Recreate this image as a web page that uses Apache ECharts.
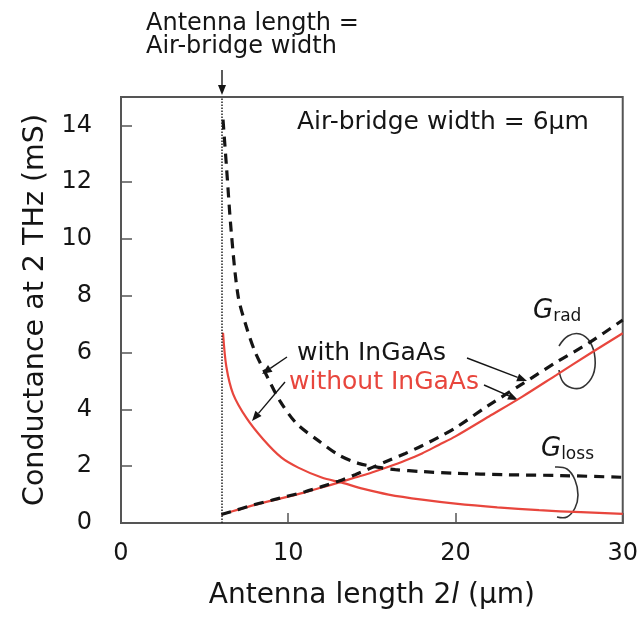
<!DOCTYPE html>
<html><head><meta charset="utf-8">
<script src="https://cdn.jsdelivr.net/npm/echarts@6/dist/echarts.min.js"></script>
<style>html,body{margin:0;padding:0;background:#fff}#c{width:641px;height:619px}</style>
</head><body><div id="c"></div>
<script>
// ---- data ----
const xTicks = [0, 10, 20, 30];
const yTicks = [0, 2, 4, 6, 8, 10, 12, 14];
const airBridgeWidth = 6;

const xLossWith = [6.1, 6.3, 6.6, 7.0, 7.5, 8.0, 8.7, 9.5, 10.5, 11.8, 13.0, 14.2, 15.4, 16.4, 18, 20, 23, 26.3, 30];
const yLossWith = [14.2, 12.6, 10.2, 8.0, 6.9, 6.05, 5.2, 4.3, 3.5, 2.9, 2.4, 2.1, 1.96, 1.88, 1.81, 1.75, 1.7, 1.67, 1.61];

const xLossWithout = [6.1, 6.3, 6.7, 7.5, 8.5, 9.6, 10.6, 12.0, 13.2, 14.5, 16, 18, 20, 22.5, 25, 27.5, 30];
const yLossWithout = [6.7, 5.5, 4.55, 3.7, 2.95, 2.3, 1.95, 1.6, 1.42, 1.2, 1.0, 0.82, 0.68, 0.55, 0.45, 0.38, 0.32];

const xRad = [6, 7, 8, 9, 10, 11, 12, 13, 14, 15, 16, 17, 18, 19, 20, 22, 24, 26, 28, 30];
const yRadWith = [0.3, 0.47, 0.65, 0.8, 0.95, 1.1, 1.28, 1.47, 1.7, 1.95, 2.2, 2.45, 2.72, 3.02, 3.35, 4.15, 4.9, 5.65, 6.35, 7.15];
const yRadWithout = [0.3, 0.47, 0.64, 0.79, 0.93, 1.08, 1.25, 1.42, 1.6, 1.78, 1.98, 2.2, 2.45, 2.75, 3.05, 3.75, 4.45, 5.2, 5.95, 6.68];

const labelWith = 'with InGaAs';
const labelWithout = 'without InGaAs';

// ---- styling ----
const FONT = 'DejaVu Sans';
const RED = '#e8463d';
const INK = '#151515';
function pairs(xs, ys) { return xs.map((x, i) => [x, ys[i]]); }

function arrow(x1, y1, x2, y2) {
  const dx = x2 - x1, dy = y2 - y1, L = Math.hypot(dx, dy);
  const ux = dx / L, uy = dy / L, px = -uy, py = ux;
  const hl = 10, hw = 4;
  const bx = x2 - ux * hl, by = y2 - uy * hl;
  return [
    {type: 'line', shape: {x1, y1, x2: bx, y2: by}, style: {stroke: INK, lineWidth: 1.4}, silent: true},
    {type: 'polygon', shape: {points: [[x2, y2], [bx + px * hw, by + py * hw], [bx - px * hw, by - py * hw]]}, style: {fill: INK}, silent: true}
  ];
}

const chart = echarts.init(document.getElementById('c'));

const dashed = {type: [10, 7], width: 3.2, color: INK};
const solid = {type: 'solid', width: 2.2, color: RED};

const graphic = [
  {type: 'text', left: 146, top: 12, style: {text: 'Antenna length =', font: '24px "DejaVu Sans"', fill: INK}},
  {type: 'text', left: 146, top: 35, style: {text: 'Air-bridge width', font: '24px "DejaVu Sans"', fill: INK}},
  ...arrow(222, 70, 222, 95),
  {type: 'text', left: 297, top: 110, style: {text: 'Air-bridge width = ' + airBridgeWidth + 'μm', font: '25px "DejaVu Sans"', fill: INK}},
  {type: 'text', left: 297, top: 341, style: {text: labelWith, font: '25px "DejaVu Sans"', fill: INK}},
  {type: 'text', left: 289, top: 370, style: {text: labelWithout, font: '25px "DejaVu Sans"', fill: RED}},
  ...arrow(287, 357, 262, 374),
  ...arrow(285, 382, 252, 421),
  ...arrow(467, 358, 527, 381),
  ...arrow(484, 385, 518, 400),
  {type: 'text', left: 533, top: 298, style: {
    text: '{g|G}{s|rad}', rich: {
      g: {fontFamily: FONT, fontSize: 26, fontStyle: 'italic', fill: INK, color: INK},
      s: {fontFamily: FONT, fontSize: 17, fill: INK, color: INK, padding: [12, 0, 0, 0]}
    }}},
  {type: 'text', left: 541, top: 436, style: {
    text: '{g|G}{s|loss}', rich: {
      g: {fontFamily: FONT, fontSize: 26, fontStyle: 'italic', fill: INK, color: INK},
      s: {fontFamily: FONT, fontSize: 17, fill: INK, color: INK, padding: [12, 0, 0, 0]}
    }}},
  {type: 'polyline', shape: {smooth: 0.4, points: [[559, 346], [568, 336], [580, 334], [590, 342], [595, 358], [593, 375], [583, 387], [572, 388], [563, 382], [559, 370]]},
    style: {stroke: '#333', lineWidth: 1.6, fill: null}, silent: true},
  {type: 'polyline', shape: {smooth: 0.4, points: [[555, 467], [567, 469], [575, 480], [578, 495], [575, 508], [567, 517], [557, 517]]},
    style: {stroke: '#333', lineWidth: 1.6, fill: null}, silent: true}
];

chart.setOption({
  animation: false,
  backgroundColor: '#fff',
  grid: {left: 121, right: 16, top: 97, bottom: 96, show: true, borderColor: '#555', borderWidth: 2, backgroundColor: 'transparent'},
  xAxis: {
    type: 'value', min: xTicks[0], max: xTicks[xTicks.length - 1], interval: 10,
    name: 'Antenna length 2{i|l} (μm)', nameLocation: 'middle', nameGap: 59,
    nameTextStyle: {fontFamily: FONT, fontSize: 28, color: INK, rich: {i: {fontFamily: FONT, fontSize: 28, fontStyle: 'italic', color: INK}}},
    axisLine: {show: true, lineStyle: {color: '#555', width: 2}},
    axisTick: {show: true, inside: true, length: 10, lineStyle: {color: '#555', width: 1.5}},
    axisLabel: {fontFamily: FONT, fontSize: 24, color: INK, margin: 19},
    splitLine: {show: false}
  },
  yAxis: {
    type: 'value', min: yTicks[0], max: 15, interval: 2,
    name: 'Conductance at 2 THz (mS)', nameLocation: 'middle', nameGap: 70,
    nameTextStyle: {fontFamily: FONT, fontSize: 28.5, color: INK},
    axisLine: {show: true, lineStyle: {color: '#555', width: 2}},
    axisTick: {show: true, inside: true, length: 11, lineStyle: {color: '#555', width: 1.5}},
    axisLabel: {fontFamily: FONT, fontSize: 24, color: INK, margin: 29,
      formatter: v => (yTicks.indexOf(v) >= 0 ? String(v) : '')},
    splitLine: {show: false}
  },
  series: [
    {name: labelWithout + ' Gloss', type: 'line', data: pairs(xLossWithout, yLossWithout), showSymbol: false, smooth: 0.3, lineStyle: solid, z: 2,
      markLine: {silent: true, symbol: ['none', 'none'], label: {show: false}, lineStyle: {type: 'dotted', color: '#222', width: 1.5}, data: [{xAxis: airBridgeWidth}]}},
    {name: labelWithout + ' Grad', type: 'line', data: pairs(xRad, yRadWithout), showSymbol: false, smooth: 0.3, lineStyle: solid, z: 2},
    {name: labelWith + ' Gloss', type: 'line', data: pairs(xLossWith, yLossWith), showSymbol: false, smooth: 0.3, lineStyle: dashed, z: 3},
    {name: labelWith + ' Grad', type: 'line', data: pairs(xRad, yRadWith), showSymbol: false, smooth: 0.3, lineStyle: dashed, z: 3}
  ],
  graphic: graphic
});
</script>
</body></html>
